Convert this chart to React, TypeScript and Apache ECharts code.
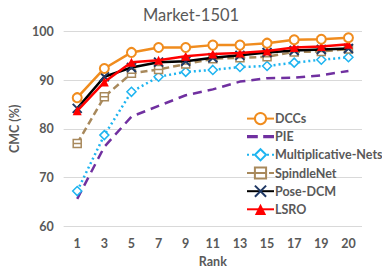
import React, { useEffect, useRef } from "react";
import * as echarts from "echarts";

const ranks = ["1", "3", "5", "7", "9", "11", "13", "15", "17", "19", "20"];
const yTicks = [60, 70, 80, 90, 100];
const dccs = [86.4, 92.4, 95.7, 96.7, 96.7, 97.2, 97.2, 97.6, 98.3, 98.4, 98.7];
const pie = [65.6, 76.3, 82.5, 84.7, 86.9, 88.1, 89.7, 90.4, 90.5, 91.0, 91.9];
const multNets = [67.2, 78.7, 87.6, 90.7, 91.7, 92.1, 92.7, 92.9, 93.6, 94.2, 94.7];
const spindleNet = [77.0, 86.6, 91.4, 92.2, 93.3, 94.4, 94.6, 94.8, 95.8, 95.9, 96.4];
const poseDcm = [84.2, 90.7, 92.6, 93.7, 93.9, 94.6, 95.1, 95.7, 96.1, 96.3, 96.5];
const lsro = [83.7, 89.6, 93.7, 94.1, 94.9, 95.4, 95.6, 96.0, 96.7, 96.9, 97.4];

export default function App() {
  const ref = useRef<HTMLDivElement>(null);
  useEffect(() => {
    if (!ref.current) return;
    const chart = echarts.init(ref.current, undefined, { renderer: "svg" });
    const font = "Lato";
    const txt = { fontFamily: font, fontSize: 12.5, fontWeight: "bold", color: "#595959" };
    chart.setOption({
      animation: false,
      backgroundColor: "#fff",
      title: {
        text: "Market-1501",
        left: "center",
        top: 1,
        textStyle: { fontFamily: font, fontSize: 16.5, fontWeight: "normal", color: "#595959" },
      },
      grid: { left: 52, right: 20, top: 31.5, bottom: 43 },
      legend: {
        orient: "vertical",
        left: 241,
        top: 107,
        itemWidth: 27,
        itemHeight: 14,
        itemGap: 5,
        data: [
          "DCCs",
          { name: "PIE", icon: "path://M0,0H10V3H0ZM15,0H25V3H15Z", itemStyle: { color: "#7030A0" } },
          "Multiplicative-Nets",
          "SpindleNet",
          "Pose-DCM",
          "LSRO",
        ],
        textStyle: { ...txt, padding: [0, 0, 0, -4] },
      },
      xAxis: {
        type: "category",
        data: ranks,
        boundaryGap: true,
        name: "Rank",
        nameLocation: "middle",
        nameGap: 28,
        nameTextStyle: txt,
        axisLine: { show: false },
        axisTick: { show: false },
        axisLabel: { ...txt, margin: 11 },
      },
      yAxis: {
        type: "value",
        min: yTicks[0],
        max: yTicks[yTicks.length - 1],
        interval: 10,
        name: "CMC (%)",
        nameLocation: "middle",
        nameGap: 35,
        nameTextStyle: txt,
        axisLine: { show: false },
        axisTick: { show: false },
        axisLabel: { ...txt, margin: 10 },
        splitLine: { lineStyle: { color: "#D9D9D9", width: 1 } },
      },
      series: [
        {
          name: "DCCs",
          type: "line",
          data: dccs,
          symbol: "circle",
          symbolSize: 9,
          lineStyle: { color: "#F08C1E", width: 2.5 },
          itemStyle: { color: "#fff", borderColor: "#F08C1E", borderWidth: 2 },
          z: 6,
        },
        {
          name: "PIE",
          type: "line",
          data: pie,
          symbol: "none",
          lineStyle: { color: "#7030A0", width: 2.5, type: [9, 6] },
          itemStyle: { color: "#7030A0" },
          z: 1,
        },
        {
          name: "Multiplicative-Nets",
          type: "line",
          data: multNets,
          symbol: "diamond",
          symbolSize: 9,
          lineStyle: { color: "#1EB4F0", width: 2.5, type: [2, 3] },
          itemStyle: { color: "#fff", borderColor: "#1EB4F0", borderWidth: 1.5 },
          z: 2,
        },
        {
          name: "SpindleNet",
          type: "line",
          data: spindleNet,
          symbol: "path://M0,0H10V10H0ZM0,5H10",
          symbolSize: 8,
          lineStyle: { color: "#A8895C", width: 2.5, type: [7, 4] },
          itemStyle: { color: "#fff", borderColor: "#A8895C", borderWidth: 1.5 },
          z: 3,
        },
        {
          name: "Pose-DCM",
          type: "line",
          data: poseDcm,
          symbol: "path://M0,0L10,10M10,0L0,10",
          symbolSize: 9,
          lineStyle: { color: "#000000", width: 2.5 },
          itemStyle: { color: "#1F3864", borderColor: "#1F3864", borderWidth: 2 },
          z: 4,
        },
        {
          name: "LSRO",
          type: "line",
          data: lsro,
          symbol: "triangle",
          symbolSize: 9,
          lineStyle: { color: "#FF0000", width: 2.5 },
          itemStyle: { color: "#FF0000" },
          z: 5,
        },
      ],
    });
    return () => chart.dispose();
  }, []);
  return <div ref={ref} style={{ width: 382, height: 273, position: "absolute", left: 0, top: 0 }} />;
}
